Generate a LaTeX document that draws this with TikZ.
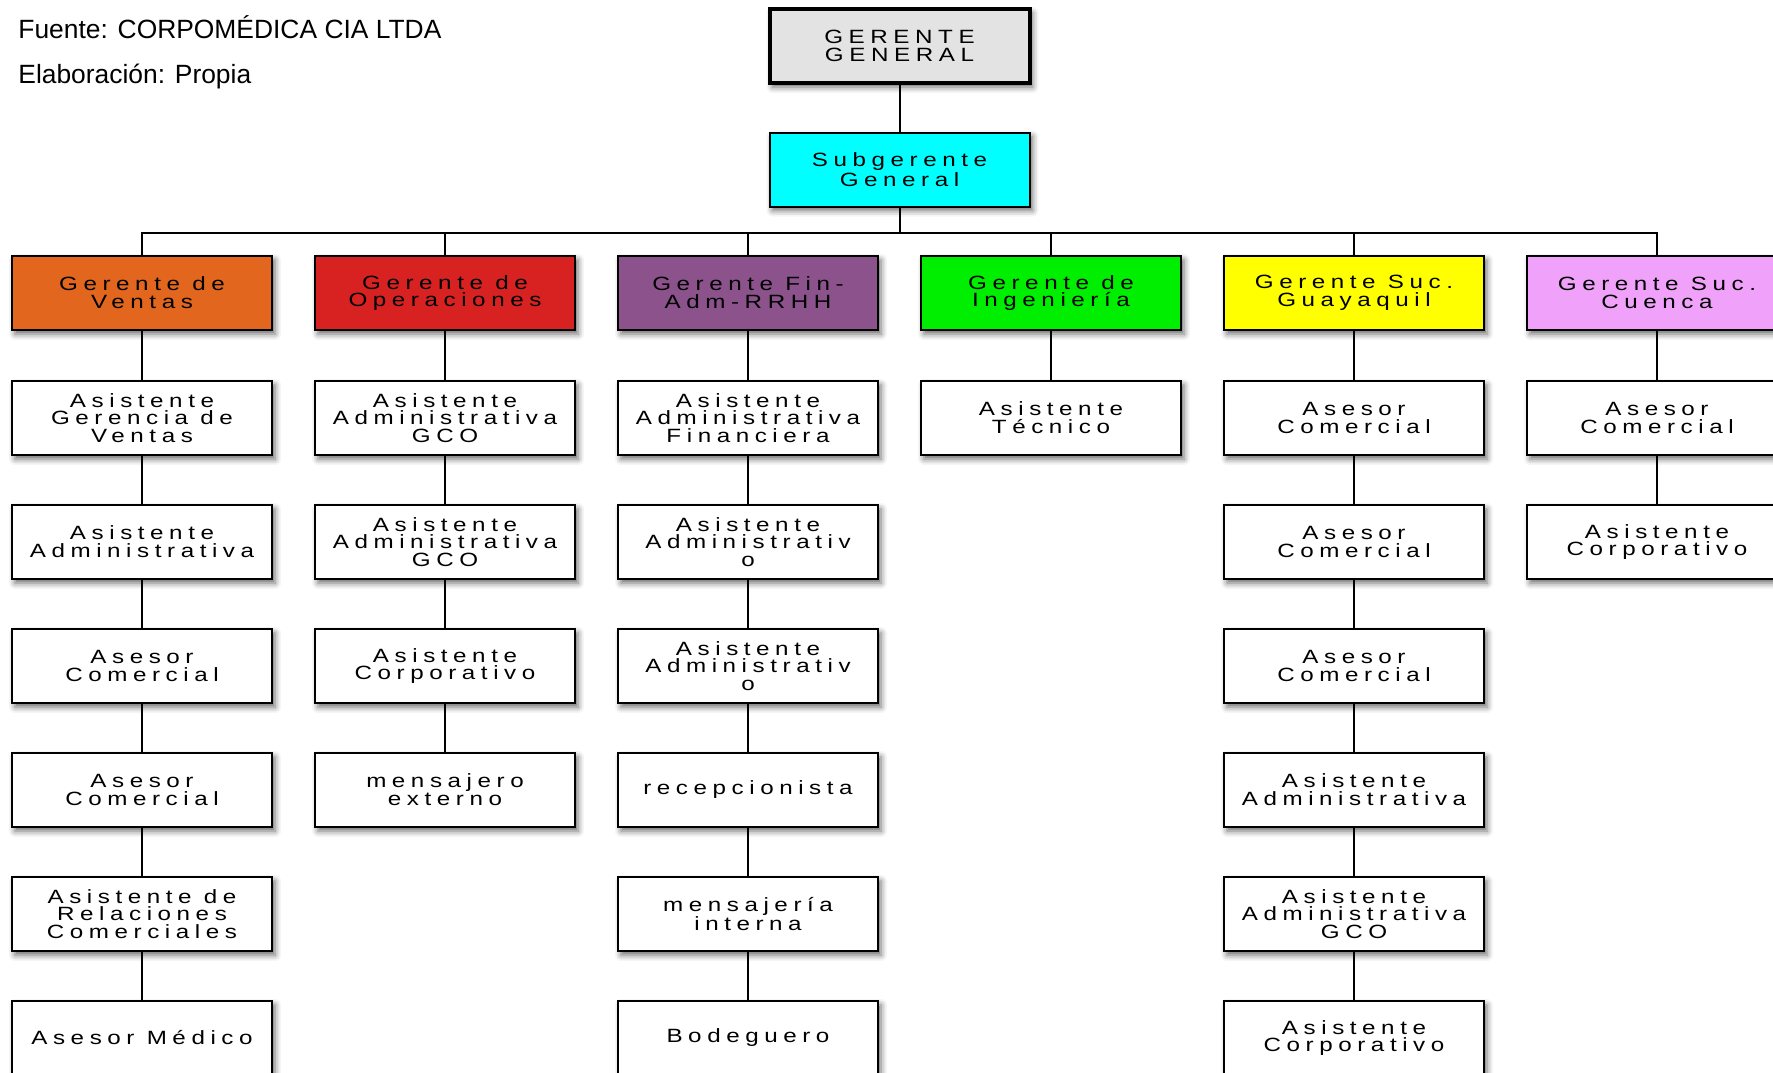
\documentclass[tikz,border=0pt]{standalone}
\usepackage{fontspec}
\setmainfont{Liberation Sans}
\newfontfamily\boxfont[LetterSpace=29,FakeStretch=1.26]{Liberation Sans}
\usetikzlibrary{shadows.blur}

\definecolor{ggfill}{RGB}{227,227,227}
\definecolor{subfill}{RGB}{0,255,255}
\definecolor{venfill}{RGB}{226,102,30}
\definecolor{opefill}{RGB}{216,34,34}
\definecolor{finfill}{RGB}{140,82,140}
\definecolor{ingfill}{RGB}{0,238,0}
\definecolor{gyefill}{RGB}{255,255,0}
\definecolor{cuefill}{RGB}{240,162,250}

\begin{document}
\begin{tikzpicture}[x=0.5pt,y=-0.5pt,
  unit/.style={draw=black, line width=1pt, fill=white,
    minimum width=130pt, minimum height=37pt, inner sep=0pt, align=center,
    font=\boxfont\fontsize{9.6}{8.9}\selectfont,
    blur shadow={shadow xshift=1.5pt, shadow yshift=-2pt,
      shadow blur radius=3pt, shadow opacity=60}},
  link/.style={line width=1pt},
  note/.style={anchor=base west, inner sep=0pt, font=\fontsize{13.2}{15}\selectfont}
]
\useasboundingbox (0,0) rectangle (1773,1072);
\clip (0,0) rectangle (1773,1072);

% source notes
\node[note] (src) at (18,38) {Fuente: CORPOMÉDICA CIA LTDA};
\node[note] (elab) at (18,83) {Elaboración: Propia};

% top management
\node[unit, fill=ggfill, line width=2pt] (gg) at (899.5,46) {GERENTE\\GENERAL};
\node[unit, fill=subfill] (sub) at (899.5,169.5) {Subgerente\\General};

% department heads
\node[unit, fill=venfill] (ven) at (142,293) {Gerente de\\Ventas};
\node[unit, fill=opefill] (ope) at (445,293) {Gerente de\\Operaciones};
\node[unit, fill=finfill] (fin) at (748,293) {Gerente Fin-\\Adm-RRHH};
\node[unit, fill=ingfill] (ing) at (1051,293) {Gerente de\\Ingeniería};
\node[unit, fill=gyefill] (gye) at (1354,293) {Gerente Suc.\\Guayaquil};
\node[unit, fill=cuefill] (cue) at (1657,293) {Gerente Suc.\\Cuenca};

% sales
\node[unit] (v1) at (142,418) {Asistente\\Gerencia de\\Ventas};
\node[unit] (v2) at (142,542) {Asistente\\Administrativa};
\node[unit] (v3) at (142,666) {Asesor\\Comercial};
\node[unit] (v4) at (142,790) {Asesor\\Comercial};
\node[unit] (v5) at (142,914) {Asistente de\\Relaciones\\Comerciales};
\node[unit] (v6) at (142,1038) {Asesor Médico};

% operations
\node[unit] (o1) at (445,418) {Asistente\\Administrativa\\GCO};
\node[unit] (o2) at (445,542) {Asistente\\Administrativa\\GCO};
\node[unit] (o3) at (445,666) {Asistente\\Corporativo};
\node[unit] (o4) at (445,790) {mensajero\\externo};

% finance, administration, HR
\node[unit] (f1) at (748,418) {Asistente\\Administrativa\\Financiera};
\node[unit] (f2) at (748,542) {Asistente\\Administrativ\\o};
\node[unit] (f3) at (748,666) {Asistente\\Administrativ\\o};
\node[unit] (f4) at (748,790) {recepcionista};
\node[unit] (f5) at (748,914) {mensajería\\interna};
\node[unit] (f6) at (748,1038) {Bodeguero};

% engineering
\node[unit] (i1) at (1051,418) {Asistente\\Técnico};

% Guayaquil branch
\node[unit] (g1) at (1354,418) {Asesor\\Comercial};
\node[unit] (g2) at (1354,542) {Asesor\\Comercial};
\node[unit] (g3) at (1354,666) {Asesor\\Comercial};
\node[unit] (g4) at (1354,790) {Asistente\\Administrativa};
\node[unit] (g5) at (1354,914) {Asistente\\Administrativa\\GCO};
\node[unit] (g6) at (1354,1038) {Asistente\\Corporativo};

% Cuenca branch
\node[unit] (c1) at (1657,418) {Asesor\\Comercial};
\node[unit] (c2) at (1657,542) {Asistente\\Corporativo};

% reporting lines
\draw[link] (gg.south) -- (sub.north);
\foreach \d in {ven,ope,fin,ing,gye,cue}
  \draw[link] (sub.south) -- ++(0,25) -| (\d.north);
\draw[link] (ven.south) -- (v1.north);
\draw[link] (v1.south) -- (v2.north);
\draw[link] (v2.south) -- (v3.north);
\draw[link] (v3.south) -- (v4.north);
\draw[link] (v4.south) -- (v5.north);
\draw[link] (v5.south) -- (v6.north);
\draw[link] (ope.south) -- (o1.north);
\draw[link] (o1.south) -- (o2.north);
\draw[link] (o2.south) -- (o3.north);
\draw[link] (o3.south) -- (o4.north);
\draw[link] (fin.south) -- (f1.north);
\draw[link] (f1.south) -- (f2.north);
\draw[link] (f2.south) -- (f3.north);
\draw[link] (f3.south) -- (f4.north);
\draw[link] (f4.south) -- (f5.north);
\draw[link] (f5.south) -- (f6.north);
\draw[link] (ing.south) -- (i1.north);
\draw[link] (gye.south) -- (g1.north);
\draw[link] (g1.south) -- (g2.north);
\draw[link] (g2.south) -- (g3.north);
\draw[link] (g3.south) -- (g4.north);
\draw[link] (g4.south) -- (g5.north);
\draw[link] (g5.south) -- (g6.north);
\draw[link] (cue.south) -- (c1.north);
\draw[link] (c1.south) -- (c2.north);
\end{tikzpicture}
\end{document}
